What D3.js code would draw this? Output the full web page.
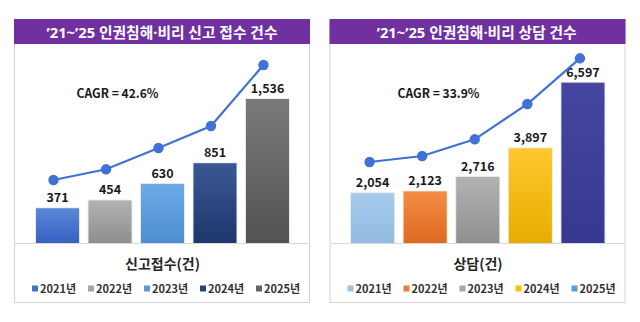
<!DOCTYPE html>
<html>
<head>
<meta charset="utf-8">
<script src="https://cdn.jsdelivr.net/npm/d3@7.9.0/dist/d3.min.js"></script>
<style>
  html, body { margin: 0; padding: 0; background: #fff; }
  svg { display: block; }
  text { font-family: "Noto Sans CJK KR", "Noto Sans", sans-serif; font-weight: bold; }
  /* latin font first so the middle dot stays narrow; hangul falls back to CJK */
  .title { font-family: "Noto Sans", "Noto Sans CJK KR", sans-serif; }
</style>
</head>
<body>
<svg id="chart" width="640" height="322"></svg>
<script>
const years = ['2021', '2022', '2023', '2024', '2025'];

// 인권침해·비리 신고 접수 건수
const reportCounts = [371, 454, 630, 851, 1536];
const reportTrend = [672, 786, 1013, 1248, 1899];
const reportCagr = 'CAGR = 42.6%';

// 인권침해·비리 상담 건수
const counselCounts = [2054, 2123, 2716, 3897, 6597];
const counselTrend = [3333, 3580, 4267, 5720, 7600];
const counselCagr = 'CAGR = 33.9%';

const svg = d3.select('#chart');
const defs = svg.append('defs');

// bar gradients: [top, bottom], legend swatch colour
const reportColors = [
  ['#5b87d8', '#3562c2', '#4472c4'],
  ['#b2b2b2', '#8e8e8e', '#a5a5a5'],
  ['#6caae6', '#4c8ed0', '#5b9bd5'],
  ['#3b5894', '#1d376c', '#264478'],
  ['#7a7a7a', '#525252', '#636363']
];
const counselColors = [
  ['#a7cbec', '#92bbe2', '#9dc3e6'],
  ['#f48c45', '#de6a1f', '#ed7d31'],
  ['#b2b2b2', '#8f8f8f', '#a5a5a5'],
  ['#ffc72c', '#e6ad00', '#ffc000'],
  ['#4646a0', '#383890', '#5b9bd5']
];

function drawPanel(opt) {
  const g = svg.append('g');
  const x0 = opt.left, w = opt.width;
  const baseY = 243;

  g.append('rect')
    .attr('x', x0 + 0.5).attr('y', 19.5)
    .attr('width', w).attr('height', 283)
    .attr('fill', '#fff').attr('stroke', '#d4d4d4');

  g.append('rect')
    .attr('x', x0).attr('y', 19)
    .attr('width', w + 1).attr('height', 25)
    .attr('fill', '#7030a0');

  g.append('text')
    .attr('class', 'title')
    .attr('x', opt.titleX).attr('y', 37.5)
    .attr('text-anchor', 'middle')
    .attr('fill', '#fff').attr('font-size', 15)
    .attr('textLength', opt.titleW).attr('lengthAdjust', 'spacingAndGlyphs')
    .text(opt.title);

  const x = d3.scaleBand()
    .domain(years)
    .range(opt.barRange)
    .paddingInner(0.18)
    .paddingOuter(0);

  const y = d3.scaleLinear()
    .domain([0, opt.yMax])
    .range([baseY, baseY - opt.yPx]);

  // baseline
  g.append('line')
    .attr('x1', x0 + 1).attr('x2', x0 + w)
    .attr('y1', baseY + 0.5).attr('y2', baseY + 0.5)
    .attr('stroke', '#d9d9d9');

  opt.colors.forEach((c, i) => {
    const grad = defs.append('linearGradient')
      .attr('id', `${opt.id}-g${i}`)
      .attr('x1', 0).attr('y1', 0).attr('x2', 0).attr('y2', 1);
    grad.append('stop').attr('offset', '0%').attr('stop-color', c[0]);
    grad.append('stop').attr('offset', '100%').attr('stop-color', c[1]);
  });

  const bars = g.selectAll('.bar')
    .data(opt.counts)
    .enter();

  // soft shadow behind each bar
  bars.append('rect')
    .attr('x', (d, i) => x(years[i]) - 1)
    .attr('y', d => y(d) - 1)
    .attr('width', x.bandwidth() + 2)
    .attr('height', d => baseY - y(d) + 1)
    .attr('fill', '#000').attr('opacity', 0.08);

  bars.append('rect')
    .attr('x', (d, i) => x(years[i]))
    .attr('y', d => y(d))
    .attr('width', x.bandwidth())
    .attr('height', d => baseY - y(d))
    .attr('fill', (d, i) => `url(#${opt.id}-g${i})`);

  bars.append('text')
    .attr('x', (d, i) => x(years[i]) + x.bandwidth() / 2)
    .attr('y', d => y(d) - 6)
    .attr('text-anchor', 'middle')
    .attr('font-size', 12.5).attr('fill', '#1a1a1a')
    .text(d => d3.format(',')(d));

  // trend line over the bars
  const px = (d, i) => x(years[i]) + x.bandwidth() / 2 + opt.lineShift;
  const line = d3.line().x(px).y(d => y(d));
  g.append('path')
    .datum(opt.trend)
    .attr('d', line)
    .attr('fill', 'none')
    .attr('stroke', '#3f72d4').attr('stroke-width', 2.2);

  g.selectAll('.pt')
    .data(opt.trend)
    .enter().append('circle')
    .attr('cx', px)
    .attr('cy', d => y(d))
    .attr('r', 5.2)
    .attr('fill', '#3f72d4');

  g.append('text')
    .attr('x', opt.cagrX).attr('y', 98)
    .attr('text-anchor', 'middle')
    .attr('font-size', 12.5).attr('fill', '#1a1a1a')
    .attr('textLength', 82).attr('lengthAdjust', 'spacingAndGlyphs')
    .text(opt.cagr);

  g.append('text')
    .attr('x', opt.axisX).attr('y', 268.5)
    .attr('text-anchor', 'middle')
    .attr('font-size', 14).attr('fill', '#262626')
    .text(opt.axisTitle);

  // legend
  const leg = g.selectAll('.leg')
    .data(years)
    .enter().append('g')
    .attr('transform', (d, i) => `translate(${x0 + 18 + i * 56},0)`);
  leg.append('rect')
    .attr('x', 0).attr('y', 285.5)
    .attr('width', 6).attr('height', 6)
    .attr('fill', (d, i) => opt.colors[i][2]);
  leg.append('text')
    .attr('x', 8).attr('y', 292.5)
    .attr('font-size', 11).attr('fill', '#333')
    .text(d => d + '년');
}

drawPanel({
  id: 'rep', left: 14, width: 295,
  title: '\u201921~\u201925 인권침해·비리 신고 접수 건수', titleX: 162, titleW: 231,
  barRange: [36, 289], yMax: 1600, yPx: 150,
  counts: reportCounts, trend: reportTrend, colors: reportColors,
  lineShift: -4, cagr: reportCagr, cagrX: 117.5,
  axisTitle: '신고접수(건)', axisX: 162.5
});

drawPanel({
  id: 'cns', left: 329.5, width: 295,
  title: '\u201921~\u201925 인권침해·비리 상담 건수', titleX: 476.7, titleW: 200,
  barRange: [351, 604.5], yMax: 7000, yPx: 170.1,
  counts: counselCounts, trend: counselTrend, colors: counselColors,
  lineShift: -3, cagr: counselCagr, cagrX: 438.5,
  axisTitle: '상담(건)', axisX: 478
});
</script>
</body>
</html>
